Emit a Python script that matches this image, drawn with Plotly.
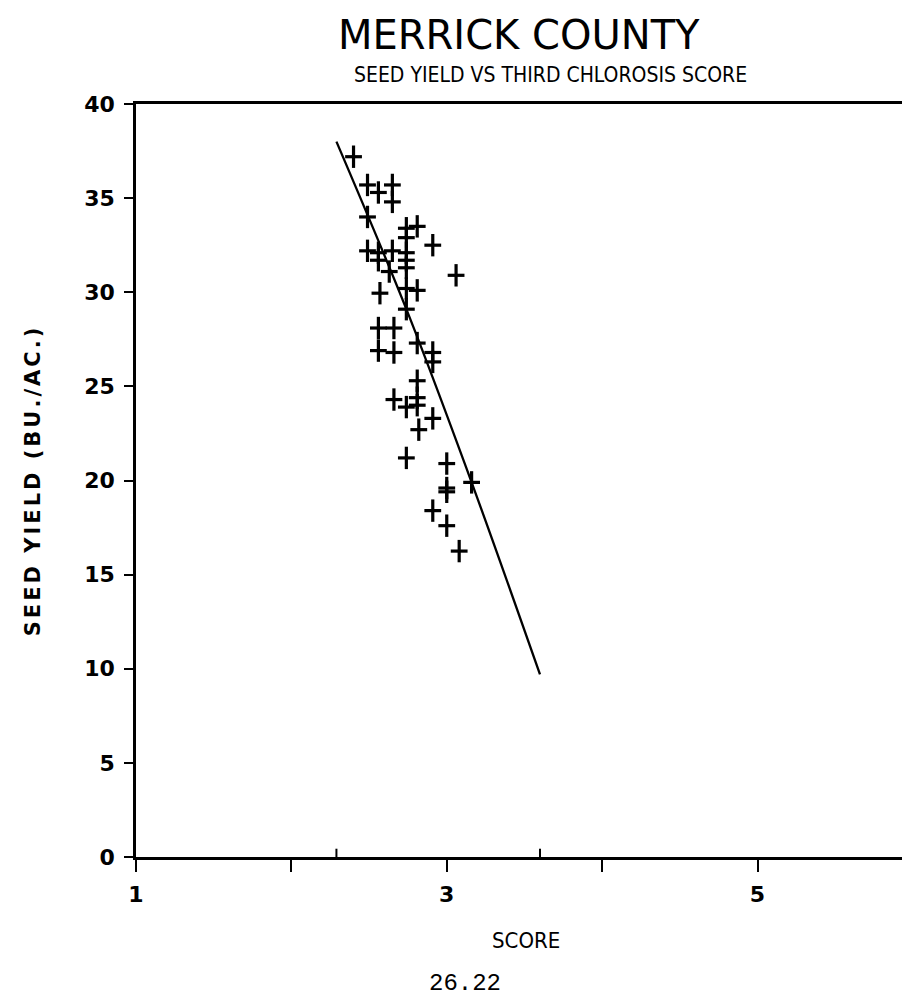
import plotly.graph_objects as go

# Observed data points (score, seed yield)
score = [2.40, 2.49, 2.56, 2.65, 2.65, 2.49, 2.74, 2.74, 2.81, 2.91,
         2.49, 2.56, 2.56, 2.65, 2.74, 2.74, 2.74, 2.63, 3.06, 2.57,
         2.74, 2.81, 2.74, 2.56, 2.66, 2.56, 2.66, 2.81, 2.91, 2.91,
         2.81, 2.81, 2.81, 2.66, 2.74, 2.91, 2.82, 2.74, 3.00, 3.00,
         3.00, 3.16, 2.91, 3.00, 3.08]
yield_bu = [37.2, 35.7, 35.3, 35.7, 34.8, 34.0, 33.4, 32.9, 33.5, 32.5,
            32.2, 32.1, 31.7, 32.2, 32.1, 31.7, 31.3, 31.1, 30.9, 29.95,
            30.2, 30.1, 29.1, 28.1, 28.1, 26.9, 26.8, 27.3, 26.8, 26.3,
            25.3, 24.4, 24.0, 24.3, 23.9, 23.3, 22.7, 21.2, 20.9, 19.6,
            19.4, 19.9, 18.4, 17.6, 16.25]

# Fitted curve
fit_x = [2.29, 2.74, 3.16, 3.60]
fit_y = [38.0, 29.1, 19.9, 9.7]

# Axis ticks
x_tickvals = [1, 2, 3, 4, 5]
x_ticktext = ["1", "", "3", "", "5"]
y_tickvals = [0, 5, 10, 15, 20, 25, 30, 35, 40]

fig = go.Figure()
fig.add_trace(go.Scatter(x=fit_x, y=fit_y, mode="lines", line=dict(color="black", width=2.3, shape="spline"),
                         showlegend=False, hoverinfo="skip"))
# plus-sign markers: horizontal arm + longer vertical arm
fig.add_trace(go.Scatter(x=score, y=yield_bu, mode="markers",
                         marker=dict(symbol="line-ew-open", size=12, color="black",
                                     line=dict(color="black", width=3.2)),
                         showlegend=False, hoverinfo="skip"))
fig.add_trace(go.Scatter(x=score, y=yield_bu, mode="markers",
                         marker=dict(symbol="line-ns-open", size=16, color="black",
                                     line=dict(color="black", width=3.2)),
                         showlegend=False))

# small upward ticks marking the range of the fitted curve
for xv in (fit_x[0], fit_x[-1]):
    fig.add_shape(type="line", xref="x", yref="paper", x0=xv, x1=xv, y0=0, y1=0.011,
                  line=dict(color="black", width=2))

tickfont = dict(family="DejaVu Sans", size=22, weight="bold", color="black")

fig.update_layout(
    width=902, height=1000,
    margin=dict(l=136, r=0, t=104, b=143),
    paper_bgcolor="white", plot_bgcolor="white",
    font=dict(family="DejaVu Sans", color="black"),
    xaxis=dict(range=[1, 5.93], tickvals=x_tickvals, ticktext=x_ticktext,
               ticks="outside", ticklen=12, tickwidth=2, tickcolor="black",
               ticklabelstandoff=4,
               showline=True, linecolor="black", linewidth=3, mirror=True,
               showgrid=False, zeroline=False, tickfont=tickfont),
    yaxis=dict(range=[0, 40], tickvals=y_tickvals,
               ticks="outside", ticklen=9, tickwidth=2, tickcolor="black",
               ticklabelstandoff=5,
               showline=True, linecolor="black", linewidth=2.5,
               showgrid=False, zeroline=False, tickfont=tickfont,
               title=dict(text="<span style='letter-spacing:3px'>SEED YIELD (BU./AC.)</span>",
                          font=dict(family="DejaVu Sans", size=21, weight="bold"),
                          standoff=38)),
    annotations=[
        dict(text="MERRICK COUNTY", xref="paper", yref="paper", x=0.50, y=1.0, yshift=69,
             showarrow=False, font=dict(family="DejaVu Sans", size=40), xanchor="center", yanchor="middle"),
        dict(text="SEED YIELD VS THIRD CHLOROSIS SCORE", xref="paper", yref="paper", x=0.5405, y=1.0, yshift=29,
             showarrow=False, font=dict(family="DejaVu Sans Condensed", size=21), xanchor="center", yanchor="middle"),
        dict(text="SCORE", xref="paper", yref="paper", x=0.509, y=0, yshift=-83,
             showarrow=False, font=dict(family="DejaVu Sans Condensed", size=22), xanchor="center", yanchor="middle"),
        dict(text="26.22", xref="paper", yref="paper", x=0.4295, y=0, yshift=-126,
             showarrow=False, font=dict(family="Liberation Mono", size=24), xanchor="center", yanchor="middle"),
    ],
)

fig.write_html("out.html")
